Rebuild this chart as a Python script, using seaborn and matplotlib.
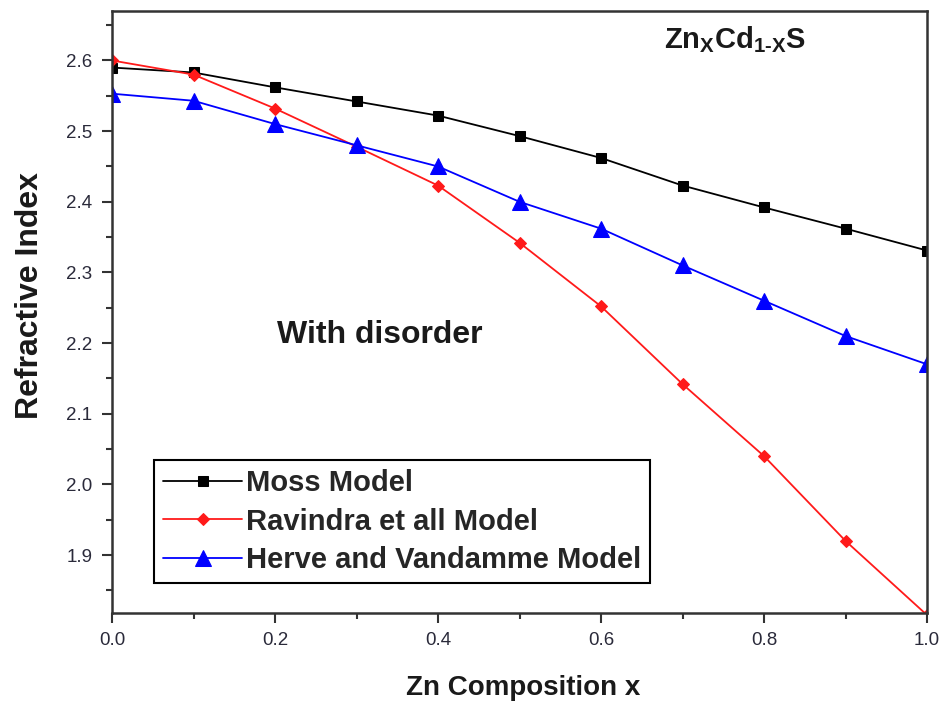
import matplotlib
matplotlib.use("Agg")
import matplotlib.pyplot as plt
import seaborn as sns
from matplotlib.ticker import MultipleLocator

# Zn composition and refractive index for the three models
x_comp = [0.0, 0.1, 0.2, 0.3, 0.4, 0.5, 0.6, 0.7, 0.8, 0.9, 1.0]
moss = [2.59, 2.583, 2.562, 2.542, 2.522, 2.493, 2.462, 2.423, 2.392, 2.362, 2.331]
ravindra = [2.60, 2.58, 2.532, 2.478, 2.423, 2.342, 2.252, 2.142, 2.04, 1.92, 1.815]
herve = [2.553, 2.543, 2.51, 2.48, 2.45, 2.40, 2.362, 2.31, 2.26, 2.21, 2.17]

labels = ["Moss Model", "Ravindra et all Model", "Herve and Vandamme Model"]

sns.set_theme(style="ticks")
plt.rcParams['font.family'] = ['Liberation Sans', 'DejaVu Sans']
plt.rcParams['mathtext.fontset'] = 'custom'
plt.rcParams['mathtext.rm'] = 'Liberation Sans:bold'
plt.rcParams['mathtext.it'] = 'Liberation Sans:bold'

fig = plt.figure(figsize=(9.46, 7.11), dpi=100)
ax = fig.add_axes([0.1184, 0.1378, 0.8616, 0.8467])

sns.lineplot(x=x_comp, y=moss, color="black", marker="s", markersize=7,
             markeredgecolor="black", linewidth=1.3, label=labels[0], ax=ax)
sns.lineplot(x=x_comp, y=ravindra, color="#ff1a1a", marker="D", markersize=6.5,
             markeredgecolor="#ff1a1a", linewidth=1.3, label=labels[1], ax=ax)
sns.lineplot(x=x_comp, y=herve, color="#0000ff", marker="^", markersize=11,
             markeredgecolor="#0000ff", linewidth=1.3, label=labels[2], ax=ax)

ax.set_xlim(0, 1.0)
ax.set_ylim(1.818, 2.67)
ax.xaxis.set_minor_locator(MultipleLocator(0.1))
ax.yaxis.set_minor_locator(MultipleLocator(0.05))
ax.set_xticks([0.0, 0.2, 0.4, 0.6, 0.8, 1.0])
ax.set_xticklabels(["0.0", "0.2", "0.4", "0.6", "0.8", "1.0"])
ax.set_yticks([1.9, 2.0, 2.1, 2.2, 2.3, 2.4, 2.5, 2.6])
ax.set_yticklabels(["1.9", "2.0", "2.1", "2.2", "2.3", "2.4", "2.5", "2.6"])

for sp in ax.spines.values():
    sp.set_visible(True)
    sp.set_color("#333333")
    sp.set_linewidth(1.8)

ax.tick_params(which="major", direction="out", length=7, width=1.5, pad=7,
               colors="#333333", labelsize=13.5, labelcolor="#2a2a3a")
ax.tick_params(which="minor", direction="out", length=4.5, width=1.5, colors="#333333")

ax.set_xlabel("Zn Composition x", fontsize=20, fontweight="bold", color="#1a1a1a")
ax.set_ylabel("Refractive Index", fontsize=23, fontweight="bold", color="#1a1a1a")
ax.xaxis.set_label_coords(0.505, -0.103)
ax.yaxis.set_label_coords(-0.082, 0.528)

ax.text(0.764, 0.952, r"$\mathrm{Zn_{X}Cd_{1\text{-}X}S}$", transform=ax.transAxes,
        fontsize=21, ha="center", va="center", color="#1a1a1a")
ax.text(0.329, 0.462, "With disorder", transform=ax.transAxes,
        fontsize=23, fontweight="bold", ha="center", va="center", color="#1a1a1a")

leg = ax.legend(loc="lower left", bbox_to_anchor=(0.052, 0.05), borderaxespad=0,
                prop={"weight": "bold", "size": 21}, fancybox=False, framealpha=1,
                edgecolor="black", handlelength=2.7, handletextpad=0.15,
                labelspacing=0.36, borderpad=0.3)
leg.get_frame().set_linewidth(1.5)

plt.savefig("out.png", dpi=100)
